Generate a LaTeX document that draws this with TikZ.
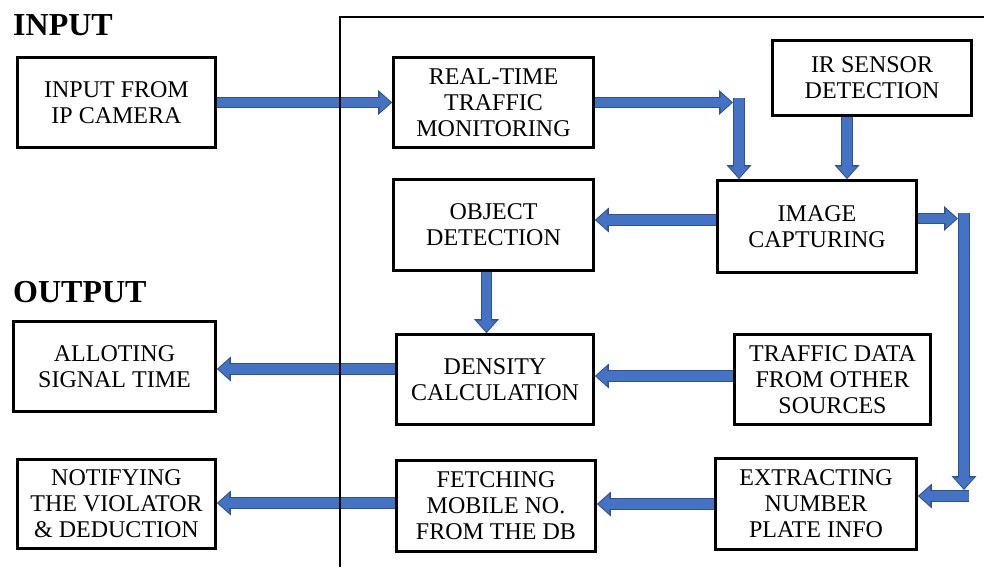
\documentclass[tikz,border=0pt]{standalone}
\usepackage{fontspec}
\setmainfont{Liberation Serif}
\newfontfamily\boxserif{Liberation Serif}
\usetikzlibrary{arrows.meta}
\definecolor{ablue}{HTML}{4472C4}
\definecolor{adark}{HTML}{2F528F}
\begin{document}
\begin{tikzpicture}[x=1pt,y=-1pt,
  box/.style={draw=black, line width=2.7pt, inner sep=0pt, align=center,
    font=\boxserif\fontsize{24}{26}\selectfont},
  ttl/.style={font=\boxserif\fontsize{32}{34}\selectfont\bfseries, anchor=base west, inner sep=0pt},
  barrow/.style={draw=adark, line width=11.5pt,
    -{Triangle[length=14pt,width=25pt,line width=0pt]},
    postaction={draw=ablue, line width=9.3pt,
      -{Triangle[length=11pt,width=19.6pt,line width=0pt]}, shorten >=1.5pt}}]
\useasboundingbox (0,0) rectangle (984,567);
\fill[white] (0,0) rectangle (984,567);

% titles
\node[ttl] (tin) at (13,36) {INPUT};
\node[ttl] (tout) at (13,302) {OUTPUT};

% boxes
\node[box, minimum width=198pt, minimum height=90pt] (inp) at (116.5,102.5) {INPUT FROM\\IP CAMERA};
\node[box, minimum width=200pt, minimum height=90pt] (rtm) at (493.5,102.5) {REAL-TIME\\TRAFFIC\\MONITORING};
\node[box, minimum width=199pt, minimum height=75pt] (ir) at (872,78) {IR SENSOR\\DETECTION};
\node[box, minimum width=200pt, minimum height=91pt] (obj) at (493.5,225) {OBJECT\\DETECTION};
\node[box, minimum width=199pt, minimum height=92pt] (img) at (817,226.5) {IMAGE\\CAPTURING};
\node[box, minimum width=202pt, minimum height=90pt] (allot) at (114.5,366.5) {ALLOTING\\SIGNAL TIME};
\node[box, minimum width=197pt, minimum height=90pt] (dens) at (495,379.5) {DENSITY\\CALCULATION};
\node[box, minimum width=196pt, minimum height=90pt] (traf) at (832.5,379.5) {TRAFFIC DATA\\FROM OTHER\\SOURCES};
\node[box, minimum width=198pt, minimum height=89pt] (notif) at (116.5,504) {NOTIFYING\\THE VIOLATOR\\\& DEDUCTION};
\node[box, minimum width=199pt, minimum height=91pt] (fetch) at (496,506) {FETCHING\\MOBILE NO.\\FROM THE DB};
\node[box, minimum width=201pt, minimum height=91pt] (extr) at (816,504) {EXTRACTING\\NUMBER\\PLATE INFO};

% helper coordinates for elbow arrows
\coordinate (k1a) at (733,102.5);
\coordinate (k1b) at (739,98);
\coordinate (k2a) at (958,218.5);
\coordinate (k2b) at (964,213);
\coordinate (k2c) at (964,490);
\coordinate (k2d) at (969,496);

% arrows
\draw[barrow] (inp.east) -- (rtm.west);
\draw[barrow] (rtm.east) -- (k1a);
\draw[barrow] (k1b) -- (k1b |- img.north);
\draw[barrow] ([xshift=-25pt]ir.south) -- ([xshift=-25pt]ir.south |- img.north);
\draw[barrow] ([yshift=6.5pt]img.west) -- ([yshift=6.5pt]img.west -| obj.east);
\draw[barrow] ([yshift=8pt]img.east) -- (k2a);
\draw[barrow] (k2d) -- (k2d -| extr.east);
\draw[barrow] (k2b) -- (k2c);
\draw[barrow] ([xshift=-7pt]obj.south) -- ([xshift=-7pt]obj.south |- dens.north);
\draw[barrow] ([yshift=3.5pt]traf.west) -- ([yshift=3.5pt]traf.west -| dens.east);
\draw[barrow] ([yshift=10.5pt]dens.west) -- ([yshift=10.5pt]dens.west -| allot.east);
\draw[barrow] (extr.west) -- (extr.west -| fetch.east);
\draw[barrow] ([yshift=3pt]fetch.west) -- ([yshift=3pt]fetch.west -| notif.east);

% frame
\draw[line width=2.9pt] (340,567) -- (340,17) -- (984,17);
\end{tikzpicture}
\end{document}
